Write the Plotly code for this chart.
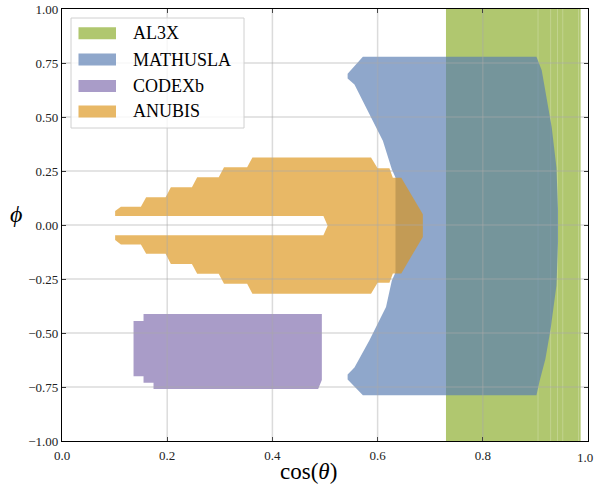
import plotly.graph_objects as go

# ---------------- data (cos(theta), phi) outlines of acceptance regions ----------------
al3x_x = [0.730, 0.986, 0.986, 0.730]
al3x_y = [-1.0, -1.0, 1.0, 1.0]
al3x_contour_x = [0.905, 0.929, 0.942, 0.952, 0.982]   # faint inner contour levels

mathusla_x = [0.572, 0.902, 0.912, 0.921, 0.931, 0.940, 0.943, 0.943, 0.940, 0.929, 0.919,
              0.908, 0.902, 0.572, 0.543, 0.543, 0.556, 0.584, 0.616, 0.627, 0.634, 0.634,
              0.627, 0.610, 0.584, 0.556, 0.543, 0.543]
mathusla_y = [0.779, 0.779, 0.717, 0.592, 0.452, 0.266, 0.070, -0.080, -0.280, -0.480, -0.620,
              -0.722, -0.788, -0.788, -0.715, -0.692, -0.660, -0.536, -0.380, -0.258, -0.220, 0.220,
              0.258, 0.390, 0.514, 0.650, 0.678, 0.700]

codexb_x = [0.155, 0.494, 0.494, 0.487, 0.174, 0.174, 0.155, 0.155, 0.136, 0.136, 0.155]
codexb_y = [-0.412, -0.412, -0.718, -0.759, -0.759, -0.730, -0.730, -0.700, -0.700, -0.445, -0.445]

anubis_x = [0.505, 0.497, 0.101, 0.101, 0.112, 0.150, 0.160, 0.197, 0.207, 0.247, 0.257,
            0.298, 0.308, 0.352, 0.362, 0.5875, 0.600, 0.6225, 0.629, 0.645, 0.686,
            0.686, 0.645, 0.629, 0.6225, 0.600, 0.5875, 0.362, 0.352, 0.308, 0.298,
            0.257, 0.247, 0.207, 0.197, 0.160, 0.150, 0.112, 0.101, 0.101, 0.497]
anubis_y = [-0.003, 0.042, 0.042, 0.065, 0.085, 0.085, 0.128, 0.128, 0.175, 0.175, 0.221,
            0.221, 0.267, 0.267, 0.313, 0.313, 0.2625, 0.2625, 0.219, 0.219, 0.050,
            -0.055, -0.224, -0.224, -0.267, -0.267, -0.318, -0.318, -0.272, -0.272, -0.226,
            -0.226, -0.180, -0.180, -0.133, -0.133, -0.090, -0.090, -0.070, -0.048, -0.048]

series_names = ["AL3X", "MATHUSLA", "CODEXb", "ANUBIS"]
series_colors = ["rgba(137,172,40,0.67)", "rgba(88,124,178,0.67)",
                 "rgba(127,107,173,0.67)", "rgba(221,149,27,0.67)"]

x_ticks = [0.0, 0.2, 0.4, 0.6, 0.8, 1.0]
x_tick_labels = ["0.0", "0.2", "0.4", "0.6", "0.8", "1.0"]
y_ticks = [-1.0, -0.75, -0.5, -0.25, 0.0, 0.25, 0.5, 0.75, 1.0]

# ---------------- figure ----------------
W, H = 595, 488
L, R, T, B = 62, 7, 9, 47
FONT = "Liberation Serif"

fig = go.Figure()
for name, xs, ys, col in zip(series_names,
                             [al3x_x, mathusla_x, codexb_x, anubis_x],
                             [al3x_y, mathusla_y, codexb_y, anubis_y],
                             series_colors):
    fig.add_trace(go.Scatter(x=xs, y=ys, fill="toself", fillcolor=col, mode="lines",
                             line=dict(width=0, color=col), name=name, showlegend=False,
                             hoverinfo="name"))
    if name == "AL3X":
        for cx in al3x_contour_x:
            fig.add_trace(go.Scatter(x=[cx, cx], y=[-1, 1], mode="lines", showlegend=False,
                                     hoverinfo="skip",
                                     line=dict(color="rgba(255,255,255,0.22)", width=1)))

shapes = []
# grid drawn above the filled regions (semi transparent)
for xv in x_ticks[1:-1]:
    shapes.append(dict(type="line", xref="x", yref="y", x0=xv, x1=xv, y0=-1, y1=1,
                       line=dict(color="rgba(170,170,170,0.42)", width=1.5), layer="above"))
for yv in y_ticks[1:-1]:
    shapes.append(dict(type="line", xref="x", yref="y", x0=0, x1=1, y0=yv, y1=yv,
                       line=dict(color="rgba(170,170,170,0.42)", width=1.5), layer="above"))

pw, ph = W - L - R, H - T - B
def px2x(px):  # pixel -> paper coordinate
    return (px - L) / pw
def py2y(py):
    return (H - B - py) / ph

# manual legend
shapes.append(dict(type="rect", xref="paper", yref="paper",
                   x0=px2x(71), x1=px2x(244), y0=py2y(128), y1=py2y(18),
                   fillcolor="rgba(255,255,255,0.8)", line=dict(color="#d0d0d0", width=1),
                   layer="above"))
annotations = []
leg_rows = [33.3, 59.6, 86.0, 111.5]
for name, col, yc in zip(series_names, series_colors, leg_rows):
    shapes.append(dict(type="rect", xref="paper", yref="paper",
                       x0=px2x(78.5), x1=px2x(116), y0=py2y(yc + 6), y1=py2y(yc - 6),
                       fillcolor=col, line=dict(width=0), layer="above"))
    annotations.append(dict(xref="paper", yref="paper", x=px2x(131), y=py2y(yc),
                            text=name, showarrow=False, xanchor="left", yanchor="middle",
                            font=dict(family=FONT, size=18, color="black")))

# last x tick label, kept inside the window (right aligned at the window edge)
annotations.append(dict(xref="paper", yref="paper", x=px2x(595), y=py2y(457),
                        text=x_tick_labels[-1], showarrow=False, xanchor="right", yanchor="middle",
                        font=dict(family=FONT, size=13, color="#222")))
annotations.append(dict(xref="paper", yref="paper", x=px2x(308), y=py2y(471),
                        text="cos(<i>θ</i>)", showarrow=False, xanchor="center", yanchor="middle",
                        font=dict(family=FONT, size=23, color="black")))
annotations.append(dict(xref="paper", yref="paper", x=px2x(16), y=py2y(214),
                        text="<i>ϕ</i>", showarrow=False, xanchor="center", yanchor="middle",
                        font=dict(family=FONT, size=24, color="black")))

axis_common = dict(showgrid=False, zeroline=False, showline=True, linecolor="black", linewidth=1.3,
                   mirror="ticks", ticks="inside", ticklen=4, tickwidth=1, tickcolor="black",
                   automargin=False, ticklabeloverflow="allow",
                   tickfont=dict(family=FONT, size=13, color="#222"))
fig.update_layout(
    width=W, height=H, margin=dict(l=L, r=R, t=T, b=B, autoexpand=False),
    paper_bgcolor="white", plot_bgcolor="white",
    xaxis=dict(range=[0, 1], tickvals=x_ticks, ticktext=x_tick_labels[:-1] + [""],
               ticklabelstandoff=2, **axis_common),
    yaxis=dict(range=[-1, 1], tickvals=y_ticks, tickformat=".2f", **axis_common),
    shapes=shapes, annotations=annotations, showlegend=False,
)
# remove the browser's default 8px body margin so the figure fills the window exactly
fig.write_html("out.html", config={"displayModeBar": False},
               post_script="document.body.style.margin='0';document.body.style.overflow='hidden';")
